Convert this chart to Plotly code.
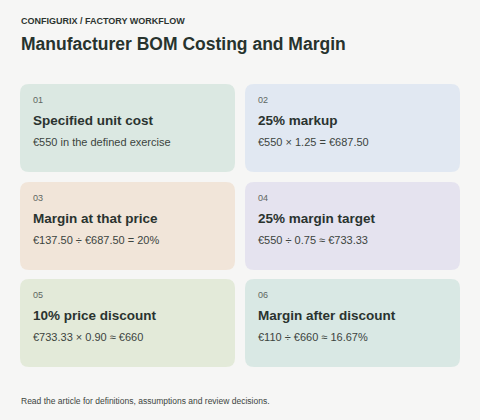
import plotly.graph_objects as go

card_numbers = ["01", "02", "03", "04", "05", "06"]
card_titles = [
    "Specified unit cost",
    "25% markup",
    "Margin at that price",
    "25% margin target",
    "10% price discount",
    "Margin after discount",
]
card_texts = [
    "€550 in the defined exercise",
    "€550 × 1.25 = €687.50",
    "€137.50 ÷ €687.50 = 20%",
    "€550 ÷ 0.75 ≈ €733.33",
    "€733.33 × 0.90 ≈ €660",
    "€110 ÷ €660 ≈ 16.67%",
]

card_colors = ["#dbe8e2", "#e1e8f2", "#f1e5d9", "#e5e3ef", "#e3ead9", "#d9e8e4"]
FONT = "Liberation Sans, Arial, sans-serif"


def rounded_rect(x0, y0, x1, y1, r):
    return (
        f"M{x0 + r},{y0} L{x1 - r},{y0} Q{x1},{y0} {x1},{y0 + r} "
        f"L{x1},{y1 - r} Q{x1},{y1} {x1 - r},{y1} L{x0 + r},{y1} "
        f"Q{x0},{y1} {x0},{y1 - r} L{x0},{y0 + r} Q{x0},{y0} {x0 + r},{y0} Z"
    )


shapes = []
annotations = []
col_x = [20, 245]
row_y = [84, 182, 279]
w, h = 215, 88

for i, (num, title, text) in enumerate(zip(card_numbers, card_titles, card_texts)):
    x0 = col_x[i % 2]
    y0 = row_y[i // 2]
    shapes.append(dict(type="path", path=rounded_rect(x0, y0, x0 + w, y0 + h, 9),
                       fillcolor=card_colors[i], line=dict(width=0), layer="below"))
    common = dict(xref="x", yref="y", x=x0 + 11, xanchor="left", yanchor="middle", showarrow=False)
    annotations.append(dict(common, y=y0 + 16, text=num, font=dict(family=FONT, size=9, color="#5e6661")))
    annotations.append(dict(common, y=y0 + 36, text=f"<b>{title}</b>", font=dict(family=FONT, size=13.5, color="#2a332f")))
    annotations.append(dict(common, y=y0 + 58, text=text, font=dict(family=FONT, size=11, color="#3c4440")))

annotations += [
    dict(xref="x", yref="y", x=19, y=21, xanchor="left", yanchor="middle", showarrow=False,
         text="<b>CONFIGURIX / FACTORY WORKFLOW</b>", font=dict(family=FONT, size=9, color="#2c3430")),
    dict(xref="x", yref="y", x=19, y=44, xanchor="left", yanchor="middle", showarrow=False,
         text="<b>Manufacturer BOM Costing and Margin</b>", font=dict(family=FONT, size=17.5, color="#27332d")),
    dict(xref="x", yref="y", x=19, y=401, xanchor="left", yanchor="middle", showarrow=False,
         text="Read the article for definitions, assumptions and review decisions.",
         font=dict(family=FONT, size=8.5, color="#3c4440")),
]

fig = go.Figure()
fig.update_layout(
    width=480, height=420, margin=dict(l=0, r=0, t=0, b=0),
    paper_bgcolor="#f6f6f5", plot_bgcolor="#f6f6f5",
    xaxis=dict(range=[0, 480], visible=False, fixedrange=True),
    yaxis=dict(range=[420, 0], visible=False, fixedrange=True),
    shapes=shapes, annotations=annotations, showlegend=False,
)
# drop the browser's default body margin so the figure fills the window
fig.write_html("out.html", config={"displayModeBar": False},
               post_script="document.body.style.margin='0';document.body.style.background='#f6f6f5';")
